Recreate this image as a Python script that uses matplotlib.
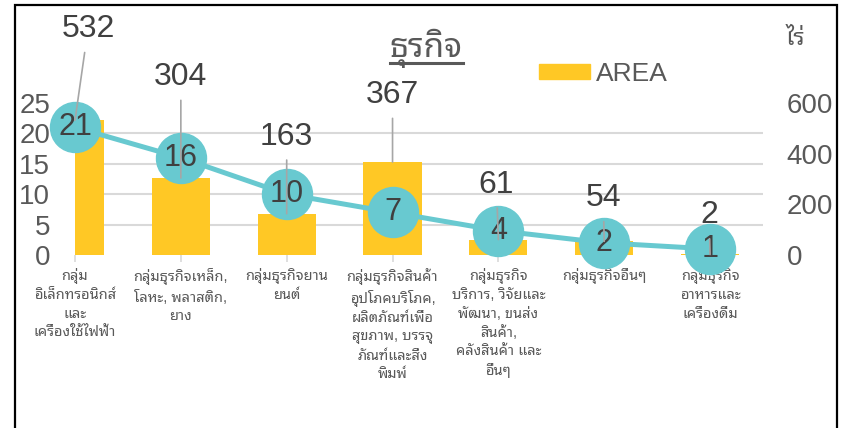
import matplotlib
matplotlib.use("Agg")
import matplotlib.pyplot as plt
from matplotlib.patches import Rectangle
from matplotlib.lines import Line2D
from matplotlib.ticker import MultipleLocator


# data

categories = [
    "กลุ่ม\nอิเล็กทรอนิกส์\nและ\nเครื่องใช้ไฟฟ้า",
    "กลุ่มธุรกิจเหล็ก,\nโลหะ, พลาสติก,\nยาง",
    "กลุ่มธุรกิจยาน\nยนต์",
    "กลุ่มธุรกิจสินค้า\nอุปโภคบริโภค,\nผลิตภัณฑ์เพื่อ\nสุขภาพ, บรรจุ\nภัณฑ์และสิ่ง\nพิมพ์",
    "กลุ่มธุรกิจ\nบริการ, วิจัยและ\nพัฒนา, ขนส่ง\nสินค้า,\nคลังสินค้า และ\nอื่นๆ",
    "กลุ่มธุรกิจอื่นๆ",
    "กลุ่มธุรกิจ\nอาหารและ\nเครื่องดื่ม",
]

area = [532, 304, 163, 367, 61, 54, 2]
count = [21, 16, 10, 7, 4, 2, 1]

# where each area label sits relative to its bar top (pixels)
label_offsets = [(13, 91), (0, 101), (0, 77), (0, 67), (-2, 55), (-1, 43), (-1, 39)]


# style

plt.rcParams["font.family"] = ["Liberation Sans", "Noto Sans Thai Looped", "DejaVu Sans"]

bar_color = "#FFC825"
line_color = "#68C9D0"
text_color = "#595959"
num_color = "#404040"
grid_color = "#D9D9D9"

fig = plt.figure(figsize=(8.46, 4.28), dpi=100)

ax = fig.add_axes([75 / 846, 1 - 255 / 428, 688 / 846, 152 / 428])
ax2 = ax.twinx()

x = list(range(len(categories)))


# bars (area, right scale)

ax.bar(x, area, width=0.55, color=bar_color, zorder=2)
ax.set_ylim(0, 600)
ax.set_xlim(0, 6.5)
ax.yaxis.tick_right()
ax.set_yticks([0, 200, 400, 600])
ax.yaxis.set_minor_locator(MultipleLocator(120))
ax.grid(which="minor", axis="y", color=grid_color, linewidth=1.5, zorder=0)
ax.tick_params(axis="y", which="both", length=0, pad=17,
               labelsize=20, labelcolor=text_color)
ax.set_xticks(x)
ax.set_xticklabels(categories, fontsize=10.5, color=text_color, linespacing=1.38)
ax.tick_params(axis="x", length=5, color=grid_color, width=1.2, pad=4.5)
for s in ax.spines.values():
    s.set_visible(False)


# line (count, left scale)

ax2.plot(x, count, color=line_color, linewidth=3.6, marker="o",
         markersize=36, markerfacecolor=line_color, markeredgecolor=line_color,
         clip_on=False, zorder=3)
ax2.set_ylim(0, 25)
ax2.yaxis.tick_left()
ax2.set_yticks([0, 5, 10, 15, 20, 25])
ax2.tick_params(axis="y", length=0, pad=18, labelsize=20, labelcolor=text_color)
for s in ax2.spines.values():
    s.set_visible(False)

for i, v in enumerate(count):
    ax2.text(i, v, str(v), ha="center", va="center", fontsize=22,
             color=num_color, zorder=5)

for i, v in enumerate(area):
    ax2.annotate(
        str(v),
        xy=(i, v), xycoords=ax.transData,
        xytext=label_offsets[i], textcoords="offset pixels",
        ha="center", va="center", fontsize=23, color=num_color,
        arrowprops=dict(arrowstyle="-", color="#A6A6A6", lw=1.2,
                        shrinkA=4, shrinkB=0),
        zorder=6,
    )


# title, unit, legend

title = fig.text(426 / 846, 1 - 48 / 428, "ธุรกิจ", ha="center", va="center",
                 fontsize=24, fontweight="bold", color=text_color)
fig.text(795 / 846, 1 - 39 / 428, "ไร่", ha="center", va="center",
         fontsize=17, color=text_color)

fig.canvas.draw()
bb = title.get_window_extent().transformed(fig.transFigure.inverted())
fig.add_artist(Line2D([bb.x0, bb.x1], [1 - 63 / 428, 1 - 63 / 428],
                      transform=fig.transFigure, color=text_color, linewidth=2.2))

leg = ax.legend(
    [Rectangle((0, 0), 1, 1, color=bar_color)], ["AREA"],
    loc="center left", bbox_to_anchor=(539 / 846, 1 - 74 / 428),
    bbox_transform=fig.transFigure, frameon=False, fontsize=19,
    handlelength=1.95, handleheight=0.5, handletextpad=0.2,
    borderpad=0, borderaxespad=0,
)
for t in leg.get_texts():
    t.set_color(text_color)


# frame around the chart

fig.add_artist(Rectangle((15 / 846, -0.1), 822 / 846, 1.1 - 5 / 428,
                         transform=fig.transFigure, fill=False,
                         edgecolor="black", linewidth=1.6))

fig.savefig("out.png", dpi=100)
